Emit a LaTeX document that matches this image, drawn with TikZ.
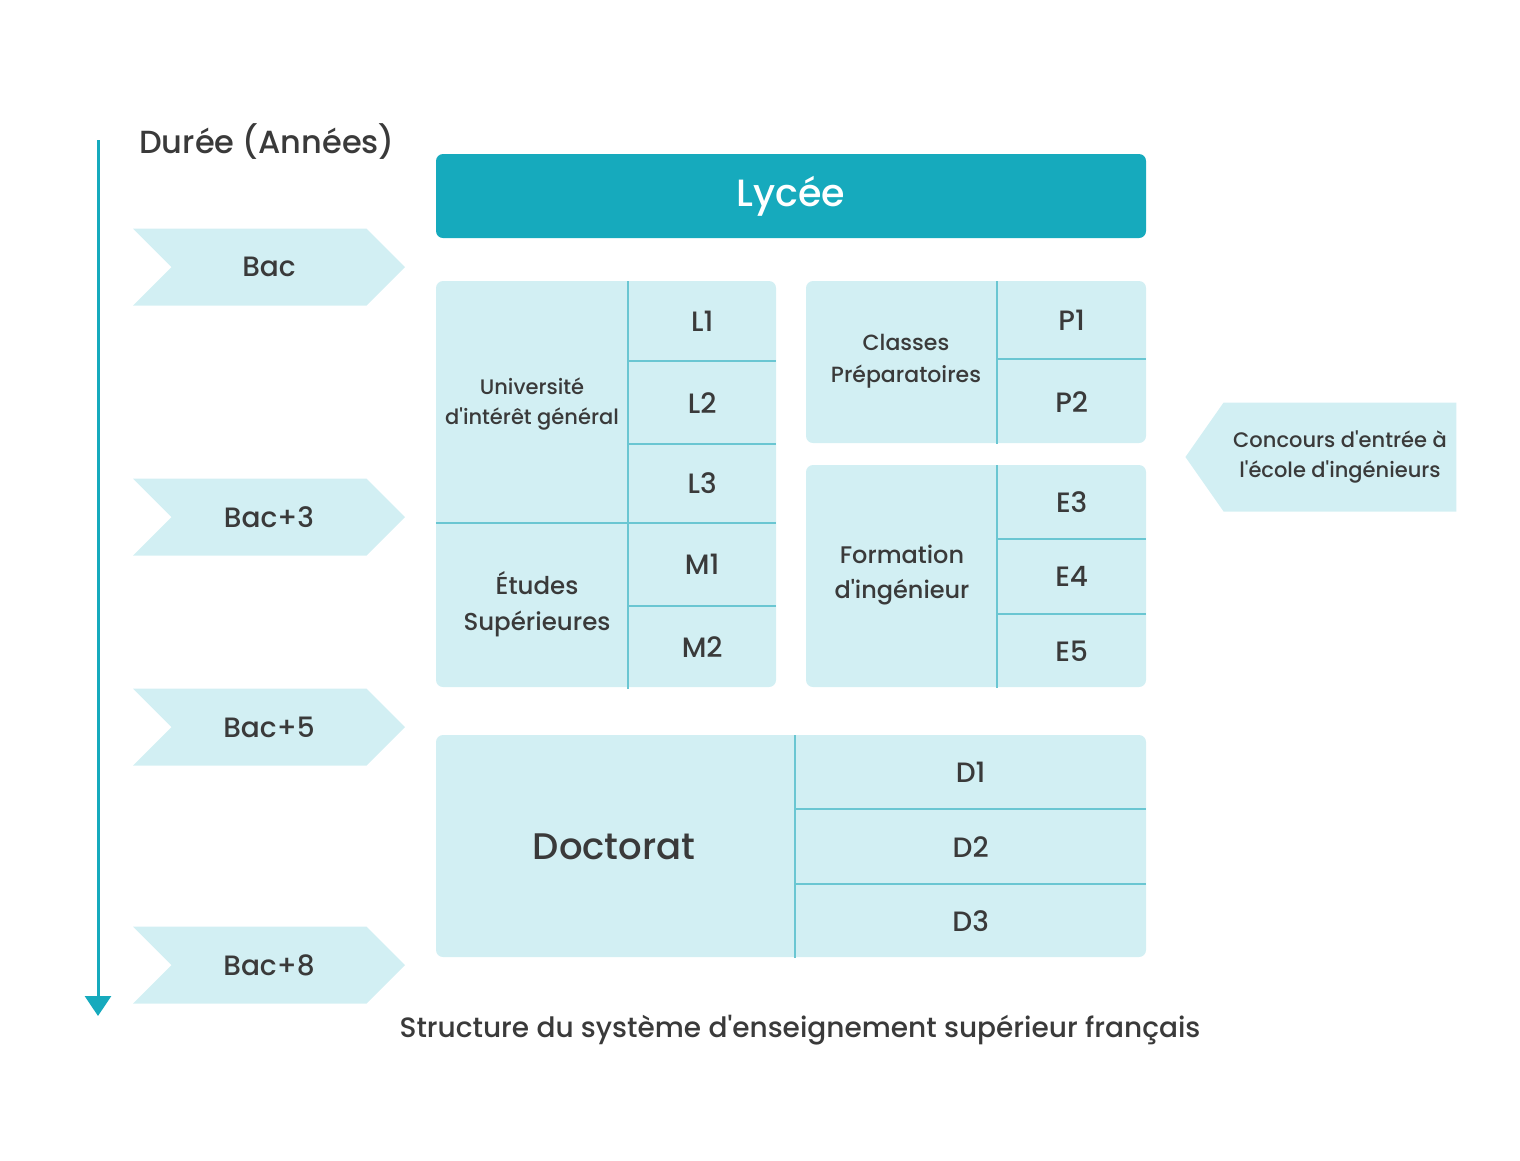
\documentclass[tikz,border=0pt]{standalone}
\usepackage{fontspec}
\setmainfont{Poppins}[UprightFont={* Medium}, BoldFont={* SemiBold}]
\usetikzlibrary{arrows.meta,positioning,shapes.symbols}
\definecolor{lagoon}{HTML}{16AABD}
\definecolor{mist}{HTML}{D2EFF3}
\definecolor{seamline}{HTML}{6AC6D2}
\definecolor{ink}{HTML}{3A3A3A}
\newcommand{\apos}{\textquotesingle}
\newcommand{\fs}[1]{\fontsize{#1}{1.45\dimexpr#1pt\relax}\selectfont}
\tikzset{
  panel/.style={rectangle, rounded corners=7pt, fill=mist, inner sep=0pt},
  cell/.style={rectangle, inner sep=0pt, text=ink, font=\fs{28}},
  seam/.style={draw=seamline, line width=2pt},
  stage/.style={signal, signal from=west, signal to=east, signal pointer angle=90,
    fill=mist, inner sep=0pt, minimum width=272pt, minimum height=77pt, text=ink, font=\fs{28}},
}

\begin{document}
\begin{tikzpicture}[x=1pt,y=-1pt]
\useasboundingbox (0,0) rectangle (1520,1160);

% time axis
\coordinate (axtop) at (98,140);
\coordinate (axend) at (98,1016);
\draw[lagoon, line width=3pt, -{Triangle[width=26pt,length=20pt]}] (axtop) -- (axend);
\node[text=ink, font=\fs{32}] (duree) at (267,142) {Durée (Années)};

\node[stage] (bac) at (269,267) {Bac};
\node[stage] (bac3) at (269,517) {Bac+3};
\node[stage] (bac5) at (269,727) {Bac+5};
\node[stage] (bac8) at (269,965) {Bac+8};

% panels
\node[panel, fill=lagoon, minimum width=710pt, minimum height=84pt, text=white, font=\fs{38}] (lycee) at (791,196) {Lycée};
\node[panel, minimum width=340pt, minimum height=406pt] (univ) at (606,484) {};
\node[panel, minimum width=340pt, minimum height=162pt] (prepa) at (976,362) {};
\node[panel, minimum width=340pt, minimum height=222pt] (ecole) at (976,576) {};
\node[panel, minimum width=710pt, minimum height=222pt] (doct) at (791,846) {};

% licence / master
\node[cell, anchor=north west, minimum width=148pt, minimum height=80pt] (L1) at (628,281) {L1};
\node[cell, below=0pt of L1, minimum width=148pt, minimum height=82pt] (L2) {L2};
\node[cell, below=0pt of L2, minimum width=148pt, minimum height=79pt] (L3) {L3};
\node[cell, below=0pt of L3, minimum width=148pt, minimum height=82pt] (M1) {M1};
\node[cell, below=0pt of M1, minimum width=148pt, minimum height=83pt] (M2) {M2};
\node[cell, align=center, font=\fs{21}] (univtxt) at (532,404) {Université\\d\apos intérêt général};
\node[cell, align=center, font=\fs{24.5}] (etudes) at (537,604) {Études\\Supérieures};
\draw[seam] (L1.north west) -- (M2.south west);
\draw[seam] (L1.south west) -- (L1.south east);
\draw[seam] (L2.south west) -- (L2.south east);
\draw[seam] (univ.west |- L3.south) -- (L3.south east);
\draw[seam] (M1.south west) -- (M1.south east);

% classes preparatoires
\node[cell, anchor=north west, minimum width=149pt, minimum height=78pt] (P1) at (997,281) {P1};
\node[cell, below=0pt of P1, minimum width=149pt, minimum height=84pt] (P2) {P2};
\node[cell, align=center, font=\fs{22}] (prepatxt) at (906,361) {Classes\\Préparatoires};
\draw[seam] (P1.north west) -- (P2.south west);
\draw[seam] (P1.south west) -- (P1.south east);

% ecole d'ingenieur
\node[cell, anchor=north west, minimum width=149pt, minimum height=74pt] (E3) at (997,465) {E3};
\node[cell, below=0pt of E3, minimum width=149pt, minimum height=74pt] (E4) {E4};
\node[cell, below=0pt of E4, minimum width=149pt, minimum height=74pt] (E5) {E5};
\node[cell, align=center, font=\fs{24}] (ingtxt) at (902,575) {Formation\\d\apos ingénieur};
\draw[seam] (E3.north west) -- (E5.south west);
\draw[seam] (E3.south west) -- (E3.south east);
\draw[seam] (E4.south west) -- (E4.south east);

% doctorat
\node[cell, font=\fs{37}] (docttxt) at (614,847) {Doctorat};
\node[cell, anchor=north west, minimum width=351pt, minimum height=74pt] (D1) at (795,735) {D1};
\node[cell, below=0pt of D1, minimum width=351pt, minimum height=74pt] (D2) {D2};
\node[cell, below=0pt of D2, minimum width=351pt, minimum height=74pt] (D3) {D3};
\draw[seam] (D1.north west) -- (D3.south west);
\draw[seam] (D1.south west) -- (D1.south east);
\draw[seam] (D2.south west) -- (D2.south east);

\node[signal, signal to=west, signal pointer angle=110, fill=mist, inner sep=0pt,
  minimum width=271pt, minimum height=109pt, align=center, text=ink, font=\fs{21}]
  (concours) at (1340,457) {Concours d\apos entrée à\\l\apos école d\apos ingénieurs};

\node[text=ink, font=\fs{28}] (caption) at (800,1030) {Structure du système d\apos enseignement supérieur français};
\end{tikzpicture}
\end{document}
